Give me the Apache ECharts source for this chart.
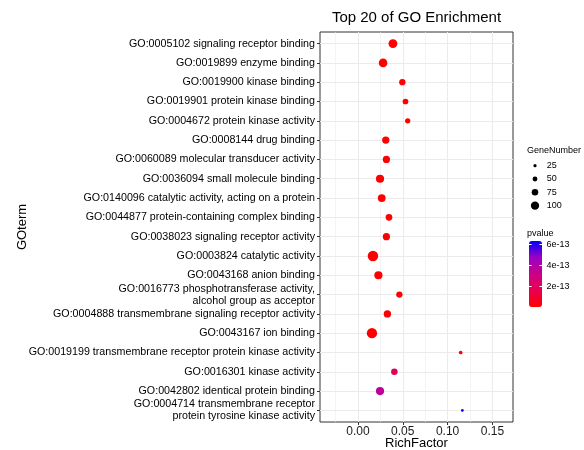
<!DOCTYPE html>
<html>
<head>
<meta charset="utf-8">
<script src="https://cdn.jsdelivr.net/npm/echarts@6/dist/echarts.min.js"></script>
<style>
  html, body { margin: 0; padding: 0; background: #ffffff; }
  #chart { width: 584px; height: 450px; }
</style>
</head>
<body>
<div id="chart"></div>
<script>
// GO terms, top row first
const goTerms = [
  'GO:0005102 signaling receptor binding',
  'GO:0019899 enzyme binding',
  'GO:0019900 kinase binding',
  'GO:0019901 protein kinase binding',
  'GO:0004672 protein kinase activity',
  'GO:0008144 drug binding',
  'GO:0060089 molecular transducer activity',
  'GO:0036094 small molecule binding',
  'GO:0140096 catalytic activity, acting on a protein',
  'GO:0044877 protein-containing complex binding',
  'GO:0038023 signaling receptor activity',
  'GO:0003824 catalytic activity',
  'GO:0043168 anion binding',
  'GO:0016773 phosphotransferase activity,\nalcohol group as acceptor',
  'GO:0004888 transmembrane signaling receptor activity',
  'GO:0043167 ion binding',
  'GO:0019199 transmembrane receptor protein kinase activity',
  'GO:0016301 kinase activity',
  'GO:0042802 identical protein binding',
  'GO:0004714 transmembrane receptor\nprotein tyrosine kinase activity'
];
const richFactor = [
  0.0390, 0.0280, 0.0495, 0.0530, 0.0555,
  0.0310, 0.0317, 0.0246, 0.0265, 0.0346,
  0.0317, 0.0167, 0.0228, 0.0462, 0.0328,
  0.0156, 0.1146, 0.0406, 0.0246, 0.1165
];
const geneNumber = [
  108, 104, 71, 62, 56,
  86, 84, 98, 93, 76,
  84, 132, 98, 71, 86,
  130, 32, 74, 98, 18
];
const pValue = [
  2.1e-21, 4.6e-20, 3.3e-18, 8.9e-18, 1.5e-17,
  6.2e-17, 9.4e-17, 2.7e-16, 4.1e-16, 7.5e-16,
  1.1e-15, 1.6e-15, 2.4e-15, 3.9e-15, 5.8e-15,
  7.7e-15, 3.0e-14, 1.9e-13, 3.6e-13, 6.3e-13
];

// axis ticks and legend breaks
const xTicks = [0, 0.05, 0.10, 0.15];
const xMinorTicks = [-0.025, 0.025, 0.075, 0.125];
const sizeBreaks = [25, 50, 75, 100];
const pTicks = [2e-13, 4e-13, 6e-13];

const FONT = "'Liberation Sans', Arial, Helvetica, sans-serif";
const rowIndex = goTerms.map((_, i) => i);
const pMin = Math.min(...pValue);
const pMax = Math.max(...pValue);

// dot diameter for a gene count
function dotSize(n) { return 1.5 + 0.068 * n; }

const points = goTerms.map((_, i) => [richFactor[i], i, geneNumber[i], pValue[i]]);

const chart = echarts.init(document.getElementById('chart'), null, { renderer: 'canvas' });

const noLine = { show: false, onZero: false };

chart.setOption({
  animation: false,
  backgroundColor: '#ffffff',
  textStyle: { fontFamily: FONT },
  title: [
    {
      text: 'Top 20 of GO Enrichment',
      left: 416.5, top: 10, padding: 0, textAlign: 'center',
      textStyle: { fontSize: 15, fontWeight: 'normal', color: '#000', fontFamily: FONT }
    },
    {
      text: 'GeneNumber', left: 527, top: 146, padding: 0,
      textStyle: { fontSize: 9, fontWeight: 'normal', color: '#000', fontFamily: FONT }
    },
    {
      text: 'pvalue', left: 527, top: 229, padding: 0,
      textStyle: { fontSize: 9, fontWeight: 'normal', color: '#000', fontFamily: FONT }
    }
  ],
  grid: [
    { left: 320, top: 32, width: 193, height: 390, show: true, outerBoundsMode: 'none',
      borderColor: '#333333', borderWidth: 1, backgroundColor: 'transparent' },
    { left: 528, top: 159, width: 14, height: 53.3, outerBoundsMode: 'none' },
    { left: 529, top: 241, width: 13, height: 66, outerBoundsMode: 'none' }
  ],
  xAxis: [
    {
      gridIndex: 0, type: 'value', min: -0.0424, max: 0.173, position: 'bottom',
      axisLine: noLine,
      axisTick: { show: true, length: 3, customValues: xTicks, lineStyle: { color: '#333333' } },
      axisLabel: { customValues: xTicks, formatter: v => v.toFixed(2),
        fontSize: 12, color: '#1a1a1a', margin: 4, fontFamily: FONT },
      splitLine: { show: true, lineStyle: { color: '#ebebeb', width: 1 } },
      name: 'RichFactor', nameLocation: 'middle', nameGap: 15, nameMoveOverlap: false,
      nameTextStyle: { fontSize: 13, color: '#000', fontFamily: FONT }
    },
    {
      gridIndex: 0, type: 'value', min: -0.0424, max: 0.173, position: 'top',
      axisLine: noLine,
      axisTick: { show: false, customValues: xMinorTicks },
      axisLabel: { show: false },
      splitLine: { show: true, lineStyle: { color: '#ededed', width: 0.6 } }
    },
    { gridIndex: 1, type: 'value', min: -1, max: 1, show: false, axisLine: noLine },
    { gridIndex: 2, type: 'value', min: 0, max: 1, show: false, axisLine: noLine }
  ],
  yAxis: [
    {
      gridIndex: 0, type: 'value', min: -0.6, max: 19.6, inverse: true, position: 'left',
      axisLine: noLine,
      axisTick: { show: true, length: 3, customValues: rowIndex, lineStyle: { color: '#333333' } },
      axisLabel: { customValues: rowIndex, formatter: v => goTerms[Math.round(v)],
        fontSize: 10.7, color: '#000', margin: 5, lineHeight: 12, fontFamily: FONT },
      splitLine: { show: true, lineStyle: { color: '#ebebeb', width: 1 } },
      name: 'GOterm', nameLocation: 'middle', nameGap: 291, nameMoveOverlap: false,
      nameTextStyle: { fontSize: 13, color: '#000', fontFamily: FONT }
    },
    {
      gridIndex: 1, type: 'category', data: sizeBreaks.map(String), inverse: true, position: 'right',
      axisLine: noLine, axisTick: { show: false }, splitLine: { show: false },
      axisLabel: { fontSize: 9, color: '#000', margin: 4.7, fontFamily: FONT }
    },
    {
      gridIndex: 2, type: 'value', min: pMin, max: pMax, position: 'right', z: 10,
      axisLine: noLine, splitLine: { show: false },
      axisTick: { show: true, inside: true, length: 2.6, customValues: pTicks,
        lineStyle: { color: '#ffffff', width: 1 } },
      axisLabel: { customValues: pTicks, formatter: v => v.toExponential(0),
        fontSize: 9, color: '#000', margin: 4.5, fontFamily: FONT }
    },
    {
      gridIndex: 2, type: 'value', min: pMin, max: pMax, position: 'left', z: 10,
      axisLine: noLine, splitLine: { show: false }, axisLabel: { show: false },
      axisTick: { show: true, inside: true, length: 2.6, customValues: pTicks,
        lineStyle: { color: '#ffffff', width: 1 } }
    }
  ],
  visualMap: [
    {
      type: 'continuous', seriesIndex: 0, dimension: 3,
      min: pMin, max: pMax, orient: 'vertical',
      left: 529, top: 241, itemWidth: 13, itemHeight: 66, padding: 0,
      calculable: false, hoverLink: false, text: null,
      inRange: { color: ['#FF0000', '#E8004F', '#CA0088', '#9A00C3', '#0000FF'] }
    }
  ],
  series: [
    {
      type: 'scatter', xAxisIndex: 0, yAxisIndex: 0,
      data: points,
      symbolSize: v => dotSize(v[2]),
      itemStyle: { opacity: 1 },
      emphasis: { disabled: true }
    },
    {
      type: 'scatter', xAxisIndex: 2, yAxisIndex: 1,
      data: sizeBreaks.map((n, i) => [0, i, n]),
      symbolSize: v => dotSize(v[2]),
      itemStyle: { color: '#000000', opacity: 1 },
      emphasis: { disabled: true }
    }
  ]
});
</script>
</body>
</html>
